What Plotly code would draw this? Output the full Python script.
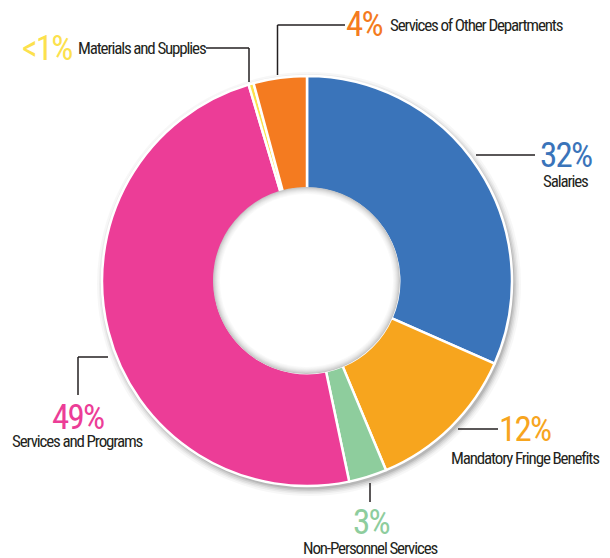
import plotly.graph_objects as go

categories = ["Salaries", "Mandatory Fringe Benefits", "Non-Personnel Services",
              "Services and Programs", "Materials and Supplies", "Services of Other Departments"]
values = [31.6, 12.1, 3.0, 48.7, 0.4, 4.2]
pct_labels = ["32%", "12%", "3%", "49%", "<1%", "4%"]
colors = ["#3A74BA", "#F7A51E", "#8ECD9D", "#EC3D97", "#FCE14D", "#F47B20"]

# page has an 8px body margin, so the figure is drawn 8px in from the corner
OFF = 8
W, H = 610 - OFF, 558 - OFF
FONT = "Roboto Condensed, Roboto, sans-serif"
TXT = "#231F20"

def px(x):
    return (x - OFF) / W

def py(y):
    return 1 - (y - OFF) / H

def circle(x, y, r, fill, layer):
    return dict(type="circle", xref="paper", yref="paper", layer=layer,
                x0=px(x - r), x1=px(x + r), y0=py(y + r), y1=py(y - r),
                fillcolor=fill, line=dict(width=0))

shapes = []
cx, cy, R = 307, 281, 205
HOLE = 0.45
# soft drop shadow behind the ring
for k, op in [(7, 0.03), (5, 0.045), (3.5, 0.06), (2, 0.08), (0.5, 0.1)]:
    shapes.append(circle(cx + 2, cy + 3, R + k, f"rgba(0,0,0,{op})", "below"))
shapes.append(circle(cx, cy, R * HOLE, "white", "below"))

# raised white disc in the hole with a soft grey rim
r_disc = 93.5
rim = ["#c6c6c6", "#d3d3d3", "#dedede", "#e7e7e7", "#efefef", "#f5f5f5", "#fafafa", "#ffffff"]
for i, c in enumerate(rim):
    shapes.append(circle(cx - 0.5, cy - 0.5, r_disc - i, c, "above"))

fig = go.Figure()
fig.add_trace(go.Pie(
    labels=categories, values=values, sort=False, direction="clockwise", rotation=0,
    hole=HOLE, marker=dict(colors=colors, line=dict(color="white", width=2.5)),
    textinfo="none", hoverinfo="label+percent", showlegend=False,
    domain=dict(x=[px(cx - R), px(cx + R)], y=[py(cy + R), py(cy - R)]),
))

# leader lines (pixel paths)
lines = [
    [(476, 155), (535, 155)],                       # Salaries
    [(458, 429), (498, 429)],                       # Fringe
    [(370, 483), (370, 502)],                       # Non-Personnel
    [(108, 357), (78, 357), (78, 395)],             # Services and Programs
    [(206, 48), (249, 48), (249, 82)],              # Materials
    [(345, 25), (277.5, 25), (277.5, 75)],          # Other Departments
]
for pts in lines:
    for (x0, y0), (x1, y1) in zip(pts[:-1], pts[1:]):
        shapes.append(dict(type="line", xref="paper", yref="paper",
                           x0=px(x0), y0=py(y0), x1=px(x1), y1=py(y1),
                           line=dict(color="#231F20", width=1.5)))

ann = []
BIG, SMALL = 35, 17

def add(text, x, y, big, color, xanchor):
    ls = "-1.8px" if big else "-1.15px"
    ann.append(dict(text=f'<span style="letter-spacing:{ls}">{text}</span>',
                    x=px(x), y=py(y), xref="paper", yref="paper",
                    showarrow=False, xanchor=xanchor, yanchor="middle",
                    font=dict(family=FONT, size=BIG if big else SMALL, color=color,
                              weight=400)))

add(pct_labels[0], 566, 156, True, colors[0], "center")
add(categories[0], 565, 181, False, TXT, "center")
add(pct_labels[1], 525, 430, True, colors[1], "center")
add(categories[1], 525, 458, False, TXT, "center")
add(pct_labels[2], 371, 522, True, colors[2], "center")
add(categories[2], 370, 548, False, TXT, "center")
add(pct_labels[3], 78, 417, True, colors[3], "center")
add(categories[3], 77, 441, False, TXT, "center")
add(pct_labels[4], 74, 48, True, colors[4], "right")
add(categories[4], 76, 48, False, TXT, "left")
add(pct_labels[5], 384, 25, True, colors[5], "right")
add(categories[5], 388, 25, False, TXT, "left")

fig.update_layout(width=W, height=H, margin=dict(l=0, r=0, t=0, b=0),
                  paper_bgcolor="white", plot_bgcolor="white",
                  shapes=shapes, annotations=ann)

fig.write_html("out.html")
